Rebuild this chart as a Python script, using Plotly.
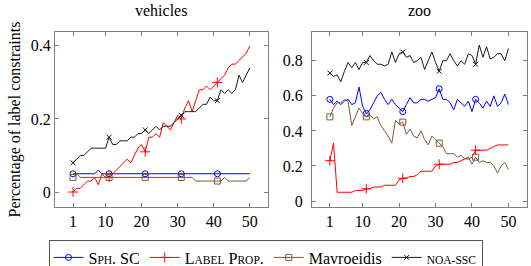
import plotly.graph_objects as go

x_vals = list(range(1, 51))

# vehicles
veh_sph = [0.05]*7 + [0.06] + [0.05]*42
veh_lp = [0.00, 0.01, 0.01, 0.02, 0.03, 0.03, 0.04, 0.02, 0.05, 0.04,
          0.04, 0.05, 0.06, 0.07, 0.08, 0.09, 0.08, 0.10, 0.12, 0.13,
          0.11, 0.15, 0.15, 0.16, 0.15, 0.19, 0.18, 0.17, 0.19, 0.21,
          0.20, 0.23, 0.25, 0.22, 0.25, 0.28, 0.28, 0.29, 0.28, 0.29,
          0.30, 0.31, 0.32, 0.34, 0.35, 0.35, 0.36, 0.37, 0.38, 0.40]
veh_mav = [0.04, 0.05] + [0.04]*32 + [0.03]*8 + [0.04] + [0.03]*6 + [0.04]
veh_noa = [0.08, 0.09, 0.10, 0.10, 0.11, 0.12, 0.12, 0.12, 0.12, 0.12,
           0.15, 0.13, 0.13, 0.14, 0.14, 0.14, 0.15, 0.15, 0.16, 0.16,
           0.17, 0.16, 0.17, 0.18, 0.17, 0.18, 0.18, 0.18, 0.19, 0.20,
           0.21, 0.22, 0.22, 0.22, 0.22, 0.23, 0.24, 0.24, 0.26, 0.25,
           0.25, 0.28, 0.27, 0.28, 0.27, 0.28, 0.32, 0.30, 0.32, 0.34]

# zoo
zoo_sph = [0.58, 0.55, 0.57, 0.55, 0.57, 0.58, 0.55, 0.56, 0.65, 0.54,
           0.50, 0.52, 0.56, 0.60, 0.62, 0.58, 0.55, 0.58, 0.55, 0.53,
           0.51, 0.55, 0.59, 0.56, 0.56, 0.58, 0.58, 0.57, 0.58, 0.59,
           0.64, 0.58, 0.58, 0.56, 0.52, 0.58, 0.56, 0.54, 0.57, 0.51,
           0.58, 0.56, 0.53, 0.57, 0.54, 0.60, 0.54, 0.56, 0.61, 0.55]
zoo_lp = [0.23, 0.33, 0.05, 0.05, 0.05, 0.05, 0.05, 0.06, 0.06, 0.06,
          0.07, 0.07, 0.08, 0.08, 0.08, 0.09, 0.09, 0.09, 0.09, 0.12,
          0.13, 0.13, 0.14, 0.14, 0.15, 0.17, 0.17, 0.17, 0.17, 0.20,
          0.21, 0.21, 0.21, 0.21, 0.22, 0.22, 0.23, 0.24, 0.24, 0.25,
          0.29, 0.29, 0.29, 0.29, 0.30, 0.31, 0.32, 0.32, 0.32, 0.32]
zoo_mav = [0.48, 0.53, 0.56, 0.56, 0.58, 0.57, 0.43, 0.48, 0.53, 0.50,
           0.48, 0.49, 0.47, 0.48, 0.43, 0.40, 0.37, 0.33, 0.46, 0.44,
           0.45, 0.38, 0.41, 0.37, 0.36, 0.40, 0.35, 0.32, 0.37, 0.35,
           0.33, 0.31, 0.27, 0.27, 0.27, 0.25, 0.26, 0.24, 0.25, 0.21,
           0.25, 0.22, 0.23, 0.22, 0.22, 0.20, 0.16, 0.20, 0.22, 0.18]
zoo_noa = [0.73, 0.71, 0.72, 0.68, 0.74, 0.79, 0.76, 0.79, 0.75, 0.79,
           0.79, 0.83, 0.80, 0.78, 0.78, 0.77, 0.78, 0.85, 0.79, 0.84,
           0.85, 0.82, 0.83, 0.79, 0.80, 0.82, 0.75, 0.80, 0.85, 0.79,
           0.74, 0.80, 0.80, 0.84, 0.80, 0.77, 0.80, 0.78, 0.84, 0.83,
           0.78, 0.89, 0.82, 0.88, 0.81, 0.82, 0.84, 0.84, 0.80, 0.87]

marker_idx = [0, 10, 20, 30, 40]
x_ticks = [1, 10, 20, 30, 40, 50]
titles = ["vehicles", "zoo"]

SC = "font-size:11.5px"
series = [
    ("S<span style='%s'>PH</span>. SC" % SC, "#0000ff", "circle-open", 6, veh_sph, zoo_sph),
    ("L<span style='%s'>ABEL</span> P<span style='%s'>ROP</span>." % (SC, SC), "#ff0000", "cross-thin-open", 7, veh_lp, zoo_lp),
    ("Mavroeidis", "#7d5a3a", "square-open", 6, veh_mav, zoo_mav),
    ("<span style='%s'>NOA-SSC</span>" % SC, "#1a1a1a", "x-thin-open", 5, veh_noa, zoo_noa),
]

FONT = "Liberation Serif"
fig = go.Figure()
for name, color, sym, size, v, z in series:
    for k, (data, xa, ya) in enumerate([(v, "x", "y"), (z, "x2", "y2")]):
        fig.add_trace(go.Scatter(
            x=x_vals, y=data, xaxis=xa, yaxis=ya, mode="lines+markers",
            name=name, legendgroup=name, showlegend=(k == 0),
            line=dict(color=color, width=1),
            marker=dict(symbol=sym, size=size, color=color, line=dict(width=1, color=color)),
            selectedpoints=marker_idx,
            selected=dict(marker=dict(opacity=1)),
            unselected=dict(marker=dict(opacity=0)),
        ))

ax_common = dict(showline=True, mirror="ticks", linecolor="#808080", linewidth=1,
                 ticks="inside", ticklen=4, tickcolor="#808080", showgrid=False,
                 zeroline=False, tickfont=dict(family=FONT, size=16, color="#000"))

fig.update_layout(
    width=531, height=266,
    margin=dict(l=55, r=4, t=32, b=59),
    paper_bgcolor="white", plot_bgcolor="white",
    font=dict(family=FONT, size=16, color="#000"),
    showlegend=True,
    xaxis=dict(domain=[0, 0.451], range=[-4, 55], tickvals=x_ticks, tickangle=0, **ax_common),
    xaxis2=dict(domain=[0.5445, 1], range=[-3.9, 55.1], tickvals=x_ticks, tickangle=0, anchor="y2", **ax_common),
    yaxis=dict(range=[-0.041, 0.438], tickvals=[0, 0.2, 0.4], ticktext=["0", "0.2", "0.4"],
               title=dict(text="Percentage of label constraints", standoff=6,
                          font=dict(family=FONT, size=16)), **ax_common),
    yaxis2=dict(range=[-0.034, 0.964], tickvals=[0, 0.2, 0.4, 0.6, 0.8],
                ticktext=["0", "0.2", "0.4", "0.6", "0.8"], anchor="x2",
                ticklabelstandoff=5, **ax_common),
    legend=dict(orientation="h", xref="container", x=0.5, xanchor="center",
                yref="container", y=0.0996, yanchor="top",
                bordercolor="#555", borderwidth=1, bgcolor="white",
                font=dict(family=FONT, size=16), itemwidth=30, tracegroupgap=0),
    annotations=[
        dict(text=titles[0], xref="x domain", yref="paper", x=0.5, y=1, yanchor="bottom",
             yshift=11, showarrow=False, font=dict(family=FONT, size=16)),
        dict(text=titles[1], xref="x2 domain", yref="paper", x=0.5, y=1, yanchor="bottom",
             yshift=11, showarrow=False, font=dict(family=FONT, size=16)),
    ],
)

fig.write_html("out.html")
